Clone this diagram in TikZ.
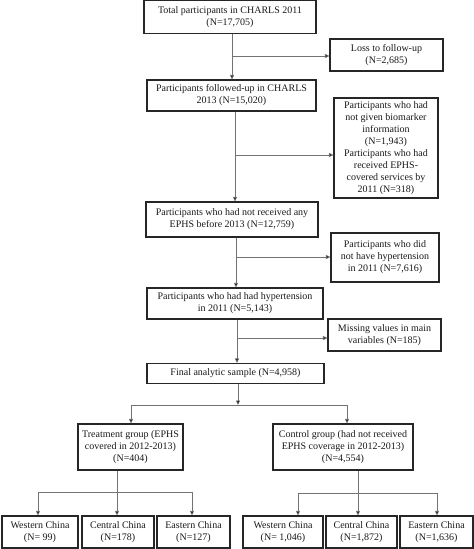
\documentclass[tikz,border=0pt]{standalone}
\usepackage{fontspec}
\setmainfont{Liberation Serif}
\usetikzlibrary{arrows.meta}
\begin{document}
\begin{tikzpicture}[x=1pt,y=-1pt,
  box/.style={draw=black!85,line width=1.1pt,align=center,inner sep=0pt,
    font=\fontsize{10}{12}\selectfont,text=black!90,anchor=center},
  arr/.style={draw=black!55,line width=0.7pt,-{Triangle[length=4.5pt,width=4pt,fill=black]}},
  ln/.style={draw=black!55,line width=0.7pt}]
\useasboundingbox (0,0) rectangle (474,549);
% main column
\node[box,minimum width=172pt,minimum height=33pt] (b1) at (230,17) {Total participants in CHARLS 2011\\(N=17,705)};
\node[box,minimum width=113pt,minimum height=32pt] (loss) at (386.5,55) {Loss to follow-up\\(N=2,685)};
\node[box,minimum width=169pt,minimum height=31pt] (b2) at (231.5,95.5) {Participants followed-up in CHARLS\\2013 (N=15,020)};
\node[box,minimum width=104pt,minimum height=100pt] (b3) at (386,148) {Participants who had\\not given biomarker\\information\\(N=1,943)\\Participants who had\\received EPHS-\\covered services by\\2011 (N=318)};
\node[box,minimum width=172pt,minimum height=35pt] (b4) at (232,219.5) {Participants who had not received any\\EPHS before 2013 (N=12,759)};
\node[box,minimum width=108pt,minimum height=49pt] (b5) at (385,257.5) {Participants who did\\not have hypertension\\in 2011 (N=7,616)};
\node[box,minimum width=176pt,minimum height=31pt] (b6) at (235,303.5) {Participants who had had hypertension\\in 2011 (N=5,143)};
\node[box,minimum width=113pt,minimum height=32pt] (b7) at (384.5,335) {Missing values in main\\variables (N=185)};
\node[box,minimum width=177pt,minimum height=20pt] (b8) at (235.5,373.5) {Final analytic sample (N=4,958)};
\node[box,minimum width=105pt,minimum height=46pt] (tr) at (130.5,447) {Treatment group (EPHS\\covered in 2012-2013)\\(N=404)};
\node[box,minimum width=140pt,minimum height=46pt] (ct) at (343,447) {Control group (had not received\\EPHS coverage in 2012-2013)\\(N=4,554)};
\node[box,minimum width=76pt,minimum height=32pt] (w1) at (40,532) {Western China\\(N= 99)};
\node[box,minimum width=72pt,minimum height=32pt] (c1) at (118,532) {Central China\\(N=178)};
\node[box,minimum width=73pt,minimum height=32pt] (e1) at (193.5,532) {Eastern China\\(N=127)};
\node[box,minimum width=80pt,minimum height=32pt] (w2) at (283,532) {Western China\\(N= 1,046)};
\node[box,minimum width=71pt,minimum height=32pt] (c2) at (361.5,532) {Central China\\(N=1,872)};
\node[box,minimum width=73pt,minimum height=32pt] (e2) at (436.5,532) {Eastern China\\(N=1,636)};
% trunk coordinates
\coordinate (j1) at (232,56);
\coordinate (j2) at (235,155);
\coordinate (j3) at (236,257);
\coordinate (j4) at (237,338);
\coordinate (s0) at (238,405);
\coordinate (sl) at (131,405);
\coordinate (sr) at (347,405);
\coordinate (t0) at (117,492);
\coordinate (tl) at (38,492);
\coordinate (tr2) at (192,492);
\coordinate (u0) at (358,493);
\coordinate (ul) at (298,493);
\coordinate (ur) at (437,493);
% connectors
\draw[arr] (b1.south -| j1) -- (b2.north -| j1);
\draw[arr] (j1) -- (loss.west |- j1);
\draw[arr] (b2.south -| j2) -- (b4.north -| j2);
\draw[arr] (j2) -- (b3.west |- j2);
\draw[arr] (b4.south -| j3) -- (b6.north -| j3);
\draw[arr] (j3) -- (b5.west |- j3);
\draw[arr] (b6.south -| j4) -- (b8.north -| j4);
\draw[arr] (j4) -- (b7.west |- j4);
\draw[arr] (b8.south -| s0) -- (s0);
\draw[ln] (sl) -- (sr);
\draw[arr] (sl) -- (tr.north -| sl);
\draw[arr] (sr) -- (ct.north -| sr);
\draw[ln] (tr.south -| t0) -- (t0);
\draw[ln] (tl) -- (tr2);
\draw[arr] (tl) -- (w1.north -| tl);
\draw[arr] (t0) -- (c1.north -| t0);
\draw[arr] (tr2) -- (e1.north -| tr2);
\draw[ln] (ct.south -| u0) -- (u0);
\draw[ln] (ul) -- (ur);
\draw[arr] (ul) -- (w2.north -| ul);
\draw[arr] (u0) -- (c2.north -| u0);
\draw[arr] (ur) -- (e2.north -| ur);
\end{tikzpicture}
\end{document}
